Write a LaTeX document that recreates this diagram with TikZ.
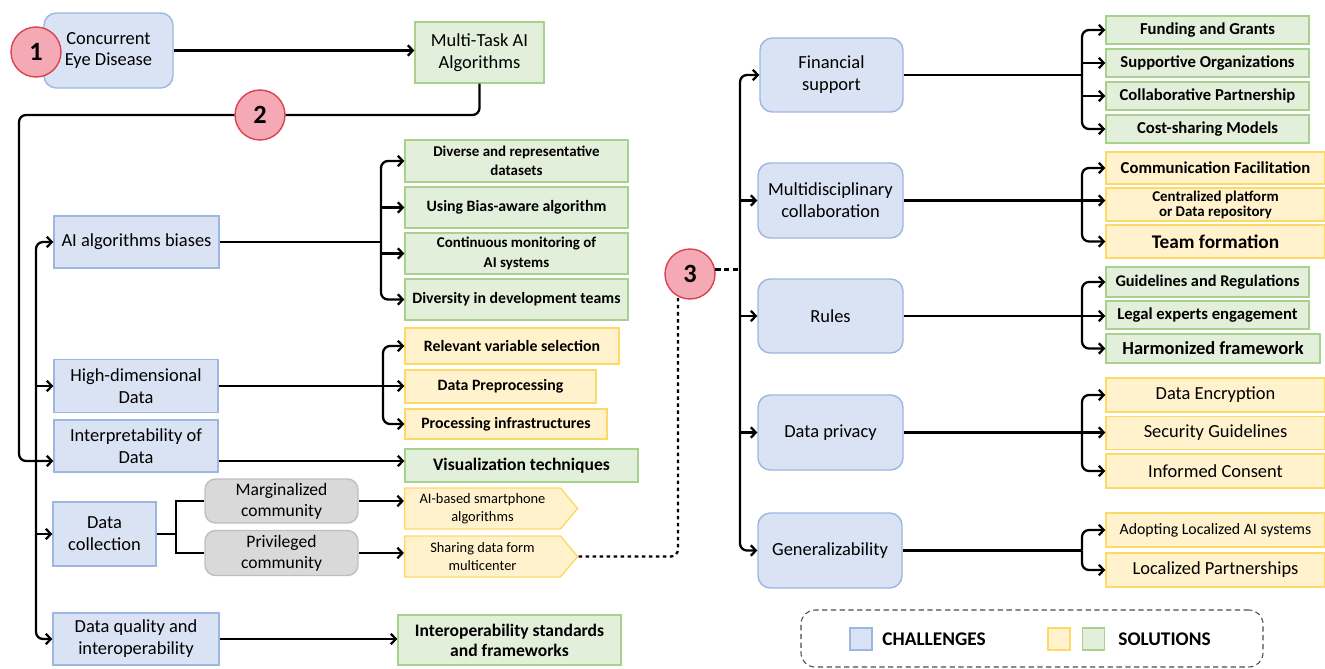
\documentclass[tikz,border=0pt]{standalone}
\usepackage{fontspec}
\setmainfont{Carlito}
\usetikzlibrary{arrows.meta,positioning,shapes.symbols}
\definecolor{chfill}{HTML}{DAE3F3}
\definecolor{chline}{HTML}{9DB7E0}
\definecolor{grfill}{HTML}{E2EFDA}
\definecolor{grline}{HTML}{A9D18E}
\definecolor{yefill}{HTML}{FFF2CC}
\definecolor{yeline}{HTML}{FFD966}
\definecolor{gyfill}{HTML}{D9D9D9}
\definecolor{gyline}{HTML}{BFBFBF}
\definecolor{pinkfill}{HTML}{F5A9B5}
\definecolor{redline}{HTML}{D9434F}
\newcommand\fsz[2]{\fontsize{#1}{#2}\selectfont}
\tikzset{wh/.style 2 args={minimum width=#1*0.02cm,minimum height=#2*0.02cm},
chal/.style={draw=chline,fill=chfill,line width=0.8pt,align=center,inner sep=1pt,font=\fsz{10.5}{12.5}},
chalr/.style={chal,rounded corners=7pt},
solg/.style={draw=grline,fill=grfill,line width=0.8pt,align=center,inner sep=1pt,font=\bfseries\fsz{9}{10.5}},
soly/.style={solg,draw=yeline,fill=yefill},
comm/.style={draw=gyline,fill=gyfill,rounded corners=6pt,line width=0.8pt,align=center,inner sep=1pt,font=\fsz{10}{12}},
sig/.style={soly,signal,signal to=east,signal from=nowhere,signal pointer angle=100,font=\fsz{8.2}{10}},
num/.style={circle,draw=redline,fill=pinkfill,line width=0.8pt,minimum size=1cm,inner sep=0pt,font=\bfseries\fsz{15}{15}},
ln/.style={line width=1.3pt},
arr/.style={ln,-{Straight Barb[length=2.8pt,width=6pt]}},
rc/.style={rounded corners=4pt}}
\begin{document}
\begin{tikzpicture}[x=0.02cm,y=-0.02cm]
\useasboundingbox (0,0) rectangle (1325,669);
\node[chalr,wh={129}{75}] (ced) at (108.5,50.5) {Concurrent\\Eye Disease};
\node[num] (n1) at (36,52) {1};
\node[solg,wh={129}{61},font=\fsz{10.5}{12.5}] (mta) at (479.5,52.5) {Multi-Task AI\\Algorithms};
\node[num] (n2) at (260,115) {2};
\node[chal,wh={165}{52}] (aib) at (136.5,242) {AI algorithms biases};
\node[chal,wh={164}{53}] (hdd) at (136,386) {High-dimensional\\Data};
\node[chal,wh={164}{52}] (ipd) at (136,446) {Interpretability of\\Data};
\node[chal,wh={103}{64}] (dcl) at (104.5,534) {Data\\collection};
\node[chal,wh={166}{52}] (dqi) at (136,639) {Data quality and\\interoperability};
\node[comm,wh={153}{44}] (mgc) at (281.5,501) {Marginalized\\community};
\node[comm,wh={153}{45}] (pvc) at (281.5,553) {Privileged\\community};
\node[sig,wh={173}{41}] (aism) at (482.5,508.5) {AI-based smartphone\\algorithms};
\node[sig,wh={173}{41}] (shd) at (482.5,556.5) {Sharing data form\\multicenter};
\node[solg,wh={223}{42},font=\bfseries\fsz{8.5}{11}] (drd) at (516.5,161) {Diverse and representative\\datasets};
\node[solg,wh={223}{41}] (uba) at (516.5,207.5) {Using Bias-aware algorithm};
\node[solg,wh={223}{41},font=\bfseries\fsz{8.5}{11}] (cma) at (516.5,253.5) {Continuous monitoring of\\AI systems};
\node[solg,wh={223}{41}] (ddt) at (516.5,299.5) {Diversity in development teams};
\node[soly,wh={214}{36}] (rvs) at (512,346) {Relevant variable selection};
\node[soly,wh={191}{33}] (dpp) at (500.5,386.5) {Data Preprocessing};
\node[soly,wh={202}{30}] (pif) at (506,424) {Processing infrastructures};
\node[solg,wh={233}{33},font=\bfseries\fsz{10}{12}] (vzt) at (521.5,465.5) {Visualization techniques};
\node[solg,wh={223}{50},font=\bfseries\fsz{10}{11.5}] (isf) at (509.5,640) {Interoperability standards\\and frameworks};
\node[num] (n3) at (690,274) {3};
\node[chalr,wh={143}{74}] (fin) at (831.5,75) {Financial\\support};
\node[chalr,wh={145}{75}] (mdc) at (830.5,200.5) {Multidisciplinary\\collaboration};
\node[chalr,wh={145}{74}] (rul) at (830.5,316) {Rules};
\node[chalr,wh={145}{75}] (dpr) at (830.5,432.5) {Data privacy};
\node[chalr,wh={144}{75}] (gen) at (830,550.5) {Generalizability};
\node[solg,wh={203}{28},font=\bfseries\fsz{9.5}{11}] (fgr) at (1207.5,30) {Funding and Grants};
\node[solg,wh={203}{28},font=\bfseries\fsz{9.5}{11}] (sor) at (1207.5,63) {Supportive Organizations};
\node[solg,wh={203}{28},font=\bfseries\fsz{9.5}{11}] (cpa) at (1207.5,96) {Collaborative Partnership};
\node[solg,wh={203}{28},font=\bfseries\fsz{9.5}{11}] (csm) at (1207.5,129) {Cost-sharing Models};
\node[soly,wh={219}{32},font=\bfseries\fsz{9.5}{11}] (cfa) at (1215.5,168) {Communication Facilitation};
\node[soly,wh={219}{33},font=\bfseries\fsz{8.5}{8.5}] (cpd) at (1215.5,204.5) {Centralized platform\\or Data repository};
\node[soly,wh={219}{33},font=\bfseries\fsz{11}{12}] (tfo) at (1215.5,241.5) {Team formation};
\node[solg,wh={203}{30},font=\bfseries\fsz{9.3}{11}] (gar) at (1207.5,282) {Guidelines and Regulations};
\node[solg,wh={203}{28},font=\bfseries\fsz{9.5}{11}] (lee) at (1207.5,315) {Legal experts engagement};
\node[solg,wh={214}{29},font=\bfseries\fsz{10.5}{12}] (hfw) at (1213,348.5) {Harmonized framework};
\node[soly,wh={219}{34},font=\fsz{10.5}{12}] (den) at (1215.5,395) {Data Encryption};
\node[soly,wh={219}{33},font=\fsz{10.5}{12}] (sgl) at (1215.5,433) {Security Guidelines};
\node[soly,wh={219}{34},font=\fsz{10.5}{12}] (icn) at (1215.5,471) {Informed Consent};
\node[soly,wh={219}{34},font=\fsz{9}{11}] (ala) at (1215.5,530) {Adopting Localized AI systems};
\node[soly,wh={219}{34},font=\fsz{10.5}{12}] (lpa) at (1215.5,570) {Localized Partnerships};
\node[draw=black!70,line width=0.6pt,dash pattern=on 3pt off 2pt,rounded corners=8pt,wh={462}{57}] (leg) at (1032,638.5) {};
\node[chal,wh={22}{22}] (lgc) at (861,639) {};
\node[right=2pt of lgc,font=\bfseries\fsz{11}{12}] (lgct) {CHALLENGES};
\node[soly,wh={22}{22}] (lgy) at (1059,639) {};
\node[solg,wh={22}{22}] (lgg) at (1093.5,639) {};
\node[right=4pt of lgg,font=\bfseries\fsz{11}{12}] (lgst) {SOLUTIONS};
\coordinate (iy) at (0,461);
\coordinate (lt) at (36,440);
\coordinate (ba) at (381,242);
\coordinate (bh) at (383,386);
\coordinate (bd) at (176,534);
\coordinate (rt) at (740,300);
\coordinate (bf) at (1082,75);
\coordinate (bm) at (1082,200.5);
\coordinate (br) at (1082,316);
\coordinate (bp) at (1082,432.5);
\coordinate (bg) at (1082,550.5);
\draw[arr] (ced.east) -- (ced.east -| mta.west);
\draw[ln,rc] (mta.south) |- (n2.east);
\draw[arr,rc] (n2.west) -- (19,115) |- (ipd.west |- iy);
\draw[arr,rc] (lt) |- (aib.west);\draw[arr,rc] (lt) |- (dqi.west);
\draw[arr] (lt |- hdd.west) -- (hdd.west);\draw[arr] (lt |- dcl.west) -- (dcl.west);
\draw[ln] (aib.east) -- (ba);
\draw[arr,rc] (ba) |- (drd.west);\draw[arr,rc] (ba) |- (ddt.west);
\draw[arr] (ba |- uba.west) -- (uba.west);\draw[arr] (ba |- cma.west) -- (cma.west);
\draw[arr] (hdd.east) -- (hdd.east -| dpp.west);
\draw[arr,rc] (bh) |- (rvs.west);\draw[arr,rc] (bh) |- (pif.west);
\draw[arr] (ipd.east |- iy) -- (vzt.west |- iy);
\draw[ln] (dcl.east) -- (bd) |- (mgc.west);\draw[ln] (bd) |- (pvc.west);
\draw[arr] (mgc.east) -- (mgc.east -| aism.west);
\draw[arr] (pvc.east) -- (pvc.east -| shd.west);
\draw[arr] (dqi.east) -- (dqi.east -| isf.west);
\draw[ln,dash pattern=on 2pt off 2pt,rc] (shd.east) -| (n3.-118);
\draw[ln,dash pattern=on 3pt off 2pt] (n3.10) -- (n3.10 -| rt);
\draw[arr,rc] (rt) |- (fin.west);\draw[arr,rc] (rt) |- (gen.west);
\draw[arr] (rt |- mdc.west) -- (mdc.west);\draw[arr] (rt |- rul.west) -- (rul.west);\draw[arr] (rt |- dpr.west) -- (dpr.west);
\draw[ln] (fin.east) -- (bf);
\draw[arr,rc] (bf) |- (fgr.west);\draw[arr,rc] (bf) |- (csm.west);
\draw[arr] (bf |- sor.west) -- (sor.west);\draw[arr] (bf |- cpa.west) -- (cpa.west);
\draw[arr] (mdc.east) -- (mdc.east -| cpd.west);
\draw[arr,rc] (bm) |- (cfa.west);\draw[arr,rc] (bm) |- (tfo.west);
\draw[arr] (rul.east) -- (rul.east -| lee.west);
\draw[arr,rc] (br) |- (gar.west);\draw[arr,rc] (br) |- (hfw.west);
\draw[arr] (dpr.east) -- (dpr.east -| sgl.west);
\draw[arr,rc] (bp) |- (den.west);\draw[arr,rc] (bp) |- (icn.west);
\draw[ln] (gen.east) -- (bg);
\draw[arr,rc] (bg) |- (ala.west);\draw[arr,rc] (bg) |- (lpa.west);
\end{tikzpicture}
\end{document}
